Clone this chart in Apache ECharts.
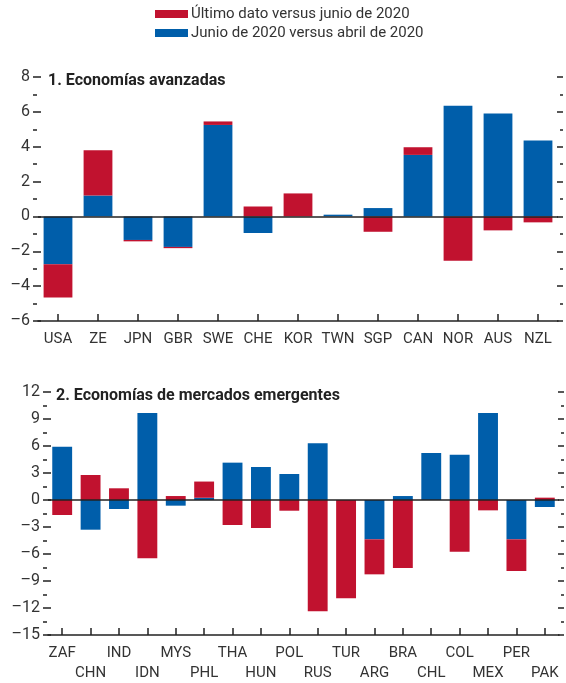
<!DOCTYPE html>
<html>
<head>
<meta charset="utf-8">
<script src="https://cdn.jsdelivr.net/npm/echarts@6/dist/echarts.min.js"></script>
<style>
html,body{margin:0;padding:0;background:#fff;}
#c{width:566px;height:683px;}
</style>
</head>
<body>
<div id="c"></div>
<script>
// Panel 1: Economías avanzadas
const catsAdv = ['USA','ZE','JPN','GBR','SWE','CHE','KOR','TWN','SGP','CAN','NOR','AUS','NZL'];
const blueAdv = [-2.75, 1.2, -1.35, -1.75, 5.25, -0.95, 0, 0.1, 0.48, 3.53, 6.35, 5.9, 4.35];
const redAdv  = [-1.9, 2.6, -0.08, -0.07, 0.2, 0.57, 1.32, 0, -0.88, 0.44, -2.54, -0.8, -0.34];

// Panel 2: Economías de mercados emergentes
const catsEm = ['ZAF','CHN','IND','IDN','MYS','PHL','THA','HUN','POL','RUS','TUR','ARG','BRA','CHL','COL','MEX','PER','PAK'];
const blueEm = [5.93, -3.3, -1.0, 9.67, -0.63, 0.25, 4.15, 3.67, 2.89, 6.3, 0, -4.37, 0.44, 5.22, 5.04, 9.67, -4.37, -0.78];
const redEm  = [-1.67, 2.78, 1.3, -6.48, 0.44, 1.8, -2.78, -3.11, -1.19, -12.37, -10.93, -3.89, -7.56, 0, -5.74, -1.15, -3.52, 0.26];

const nameRed = 'Último dato versus junio de 2020';
const nameBlue = 'Junio de 2020 versus abril de 2020';
const titles = ['1. Economías avanzadas', '2. Economías de mercados emergentes'];

const RED = '#C1122F', BLUE = '#005EAA';
const FONT = "Roboto, 'Liberation Sans Narrow', sans-serif";
const TXT = '#333';

function fmt(v){ return String(v).replace('-', '\u2013'); }

function yAxes(gi, min, max, itv){
  const base = {
    gridIndex: gi, type: 'value', min: min, max: max, interval: itv,
    offset: 5,
    axisLine: {show:false},
    splitLine: {show:false},
    axisTick: {show:true, inside:true, length:8, lineStyle:{color:'#222', width:1.5}},
    minorTick: {show:true, splitNumber:2, length:4, lineStyle:{color:'#222', width:1.5}},
  };
  return [
    Object.assign({}, base, {position:'left',
      axisLabel:{show:true, margin:3, color:TXT, fontFamily:FONT, fontSize:16, formatter: fmt}}),
    Object.assign({}, base, {position:'right', axisTick:{show:true, inside:true, length:6, lineStyle:{color:'#222', width:1.5}},
      minorTick:{show:true, splitNumber:2, length:3, lineStyle:{color:'#222', width:1.5}},
      axisLabel:{show:false}})
  ];
}

function xAxis(gi, cats, twoRows){
  return {
    gridIndex: gi, type:'category', data: cats,
    axisLine:{show:true, onZero:false, lineStyle:{color:'#222', width:1.5}},
    axisTick:{show:true, inside:true, length:7, alignWithLabel:true, interval:0, lineStyle:{color:'#222', width:1.5}},
    axisLabel:{interval:0, margin:8, color:TXT, fontFamily:FONT, fontSize:15, lineHeight:20,
      formatter: twoRows ? function(v, i){ return i % 2 ? '\n' + v : v; } : null}
  };
}

function series(gi, name, color, data, withZero){
  const s = {
    name: name, type:'bar', stack:'s' + gi, xAxisIndex: gi, yAxisIndex: gi*2,
    data: data, barWidth: gi === 0 ? '72%' : '70%',
    itemStyle:{color: color}
  };
  if (withZero) {
    s.markLine = {silent:true, symbol:'none', label:{show:false},
      lineStyle:{color:'#222', width:1.5, type:'solid'}, data:[{yAxis:0}]};
  }
  return s;
}

const chart = echarts.init(document.getElementById('c'));
const ya0 = yAxes(0, -6, 8, 2);
const ya1 = yAxes(1, -15, 12, 3);
chart.setOption({
  animation:false,
  backgroundColor:'#fff',
  textStyle:{fontFamily:FONT},
  legend:{
    orient:'vertical', left:155, top:6, padding:0,
    data:[nameRed, nameBlue],
    itemWidth:33, itemHeight:8, itemGap:3,
    icon:'rect',
    textStyle:{fontFamily:FONT, fontSize:15, color:TXT, lineHeight:16, padding:[0,0,0,-2]}
  },
  title:[
    {text:titles[0], left:43, top:68, textStyle:{fontFamily:FONT, fontSize:16, fontWeight:'bold', color:'#222'}},
    {text:titles[1], left:51, top:383, textStyle:{fontFamily:FONT, fontSize:16, fontWeight:'bold', color:'#222'}}
  ],
  grid:[
    {left:38, right:8, top:77, height:244},
    {left:48, right:7, top:392, height:243}
  ],
  xAxis:[xAxis(0, catsAdv, false), xAxis(1, catsEm, true)],
  yAxis:[ya0[0], ya0[1], ya1[0], ya1[1]],
  series:[
    series(0, nameBlue, BLUE, blueAdv, true),
    series(0, nameRed, RED, redAdv, false),
    series(1, nameBlue, BLUE, blueEm, true),
    series(1, nameRed, RED, redEm, false)
  ]
});
</script>
</body>
</html>
